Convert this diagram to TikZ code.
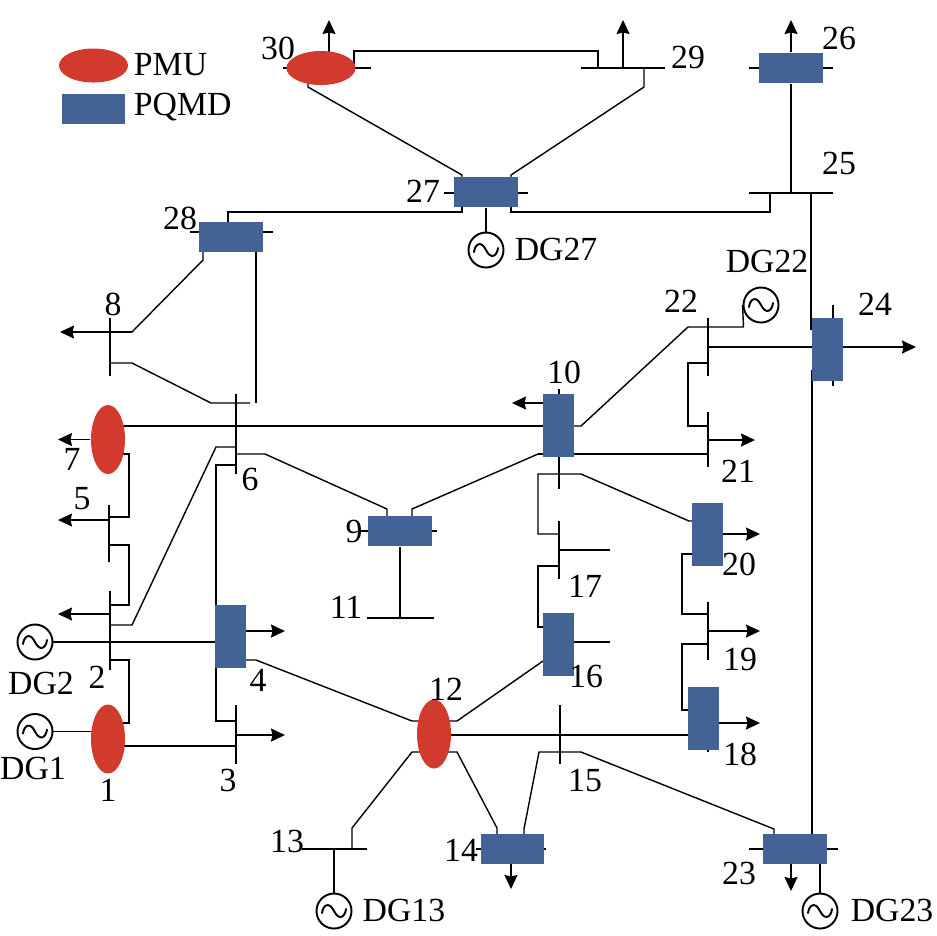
\documentclass[tikz,border=0pt]{standalone}
\usepackage{fontspec}
\setmainfont{Liberation Serif}
\usetikzlibrary{arrows.meta,backgrounds,shapes.geometric}
\definecolor{pmured}{RGB}{211,58,46}
\definecolor{pqmdblue}{RGB}{67,99,150}
\begin{document}
\begin{tikzpicture}[x=0.01cm,y=-0.01cm,line width=0.55pt,line cap=round]
        \tikzstyle{every node} = [inner sep=0pt]
        \tikzstyle{pmuh} = [ellipse, fill=pmured, minimum width=0.69cm, minimum height=0.34cm]
        \tikzstyle{pmuv} = [ellipse, fill=pmured, minimum width=0.34cm, minimum height=0.69cm]
        \tikzstyle{pqmdh} = [rectangle, fill=pqmdblue, minimum width=0.63cm, minimum height=0.30cm]
        \tikzstyle{pqmdv} = [rectangle, fill=pqmdblue, minimum width=0.31cm, minimum height=0.63cm]
        \tikzstyle{lab} = [font=\fontsize{9.6}{10}\selectfont]
        \tikzstyle{load} = [-{Stealth[length=0.14cm,width=0.13cm,inset=0.015cm]}]
        \tikzstyle{gen} = [circle, draw, minimum size=0.35cm, path picture={
            \draw (path picture bounding box.center) ++(-12,2) .. controls +(1,-8) and +(-5,-10) .. ++(12,-2)
                .. controls +(5,10) and +(-1,8) .. ++(12,-2);}]
        \useasboundingbox (0,0) rectangle (937,935);

        \node[pmuh] (legpmu) at (93.5,65.5) {};
        \node[pqmdh] (legpqmd) at (93.5,109) {};
        \node[lab, anchor=base west] (txtpmu) at (133,75) {PMU};
        \node[lab, anchor=base west] (txtpqmd) at (133,115) {PQMD};

        \node[pmuh] (bus30) at (321,68) {};
        \foreach \n/\xx/\yy in {7/108/439.5, 1/108/739, 12/434/734}
            \node[pmuv] (bus\n) at (\xx,\yy) {};
        \foreach \n/\xx/\yy in {27/486/192, 28/231/237, 26/791/68, 9/400/531, 14/512.5/849, 23/795/849}
            \node[pqmdh] (bus\n) at (\xx,\yy) {};
        \foreach \n/\xx/\yy in {10/558/425.5, 24/827.5/349.5, 4/230.5/636.5, 16/558/644.5, 20/707/534.5, 18/703/718.5}
            \node[pqmdv] (bus\n) at (\xx,\yy) {};
        \foreach \n/\xx/\yy in {27/486/250, 22/761/305, 2/35/642, 1/35/731.5, 13/334/911, 23/820/911}
            \node[gen] (g\n) at (\xx,\yy) {};
        \foreach \n/\xx/\yy in {30/278/48, 29/688/57, 26/839/38, 25/839/163, 27/423/191, 28/180/218, 8/113/304,
                22/681/301, 24/875/304, 10/564/372, 7/72/459, 6/250/479, 5/82/499, 2/97/677, 1/108/790,
                3/228/780, 4/258/680, 9/354/531, 11/346/607, 12/446/689, 13/287/841, 14/461/850, 15/585/780,
                16/586/676, 17/585/586, 18/740/754, 19/740/659, 20/739/564, 21/738/471, 23/739/873,
                DG27/556/249, DG22/767/261, DG2/41/683, DG1/33/768, DG13/404/910, DG23/892/910}
            \node[lab] (lab\n) at (\xx,\yy) {\n};

        \foreach \n/\xx/\yy in {30a/283/68, 30b/371/68, 29a/581/68, 29b/665/68, 26a/749/68, 26b/833/68,
                25a/749/193, 25b/833/193, 27a/444/193, 27b/528/193, 28a/190/232, 28b/273/232,
                8a/110/318, 8b/110/376, 6a/236/394, 6b/236/474, 10a/559/389, 10b/559/489,
                22a/708/318, 22b/708/376, 24a/833/305, 24b/833/386, 21a/708/412, 21b/708/467,
                5a/109/505, 5b/109/562, 2a/110/591, 2b/110/670, 9a/360/531, 9b/437/531,
                11a/367/618, 11b/434/618, 17a/559/521, 17b/559/579, 19a/708/602, 19b/708/660,
                18a/708/687, 18b/708/752, 3a/236/705, 3b/236/764, 15a/560/705, 15b/560/764,
                13a/302/849, 13b/367/849, 14a/476/849, 14b/546/849, 23a/749/849, 23b/838/849,
                30t/354/68, 30u/354/51, 29t/598/68, 30s/308/80, 30v/308/87, 27u/462/175, 27t/462/180,
                29s/644/68, 29v/644/87, 27w/511/175, 27x/511/180, 27y/462/205, 27z/462/212, 28t/228/224,
                27r/511/205, 27q/511/212, 25t/770/193, 28s/203/250, 28u/203/260, 8u/132/332, 8arr/60/332,
                8v/110/363, 8w/132/363, 6u/211/403, 6v/250/403, 28v/256/250, 6w/256/403,
                7t/120/426, 10t/550/426, 10u/570/426, 10v/581/426, 22u/688/327, 22v/743.5/327,
                7arr/58/439.5, 7u/120/454, 5c/129/517, 5t/109/517, 5v/109/520, 5arr/58/520,
                5w/109/545, 2c/129/605, 2t/110/605, 2u/110/614, 2arr/58/614,
                2v/110/625, 2w/132/625, 6x/216/447, 6y/236/447, 4t/220/642,
                2x/110/660, 1c/129/723, 1t/120/723, 1u/100/731.5, 1v/120/746, 3t/236/746,
                3u/236/735, 3arr/285/735, 3v/236/721, 4u/216/665, 4v/216/610, 6z/236/465,
                4w/240/631, 4arr/285/631, 4x/240/660, 4y/256/660, 12t/412/721, 12u/425/721,
                6s/236/454, 6r/265/454, 9u/387/509, 9t/387/520, 9v/412/520, 9w/412/509, 10w/538/454, 21t/708/454,
                11t/400/618, 10x/550/403, 10arr/512/403, 22s/708/347, 24t/820/347, 24u/835/347, 24arr/916/347,
                22x/708/363, 21c/688/426, 21u/708/426, 21v/708/440, 21arr/755/440,
                25u/791/193, 26arr/791/20, 30w/329/60, 30arr/329/20, 29u/623/68, 29arr/623/20,
                25v/811/193, 24v/811/330, 24w/812/370, 23t/812/840,
                20t/700/521, 20u/689/521, 10r/581/474, 10s/538/474, 17t/559/534, 17u/559/550, 17v/610/550,
                17w/559/566, 16t/538/627, 16u/550/627, 16v/560/642, 16w/610/642, 16x/543/661, 12v/457/721, 12w/445/721,
                12x/445/735, 18t/695/735, 18u/710/723, 18arr/760/723, 18v/695/710, 19c/682/644, 19t/708/644,
                19u/708/631, 19arr/760/631, 19v/708/614, 20c/682/554, 20v/700/554, 20w/715/534, 20arr/760/534,
                14t/524/840, 14u/524/829, 15u/539/752, 15v/581/752, 23u/774/829, 23v/774/840,
                12y/445/752, 12z/457/752, 14v/497/828, 14w/497/840, 12r/425/752, 12s/412/752, 13t/352/828, 13u/352/849,
                13v/334/849, 14x/511/860, 14arr/511/889, 23w/791/860, 23arr/791/891, 23x/820/850}
            \coordinate (\n) at (\xx,\yy);

        \begin{pgfonlayer}{background}
        \foreach \from/\to in {30a/30b, 29a/29b, 26a/26b, 25a/25b, 27a/27b, 28a/28b, 8a/8b, 6a/6b, 10a/10b,
                22a/22b, 24a/24b, 21a/21b, 5a/5b, 2a/2b, 9a/9b, 11a/11b, 17a/17b, 19a/19b, 18a/18b, 3a/3b,
                15a/15b, 13a/13b, 14a/14b, 23a/23b, 28v/6w, 7t/10t, 1v/3t, 25v/24v, 24w/23t, 22s/24t,
                17u/17v, 16v/16w, 12x/18t, 10w/21t, 11t/bus9, 25u/bus26, 4t/g2, 1u/g1, 13v/g13, 23x/g23, bus27/g27}
            \draw (\from) -- (\to);
        \foreach \from/\to in {8u/8arr, 5v/5arr, 2u/2arr, 3u/3arr, 4w/4arr, 10x/10arr, 24u/24arr, 21v/21arr,
                30w/30arr, 29u/29arr, 18u/18arr, 19u/19arr, 20w/20arr, 14x/14arr, 23w/23arr, bus26/26arr, bus7/7arr}
            \draw[load] (\from) -- (\to);
        \draw (30t) -- (30u) -| (29t);
        \draw (30s) -- (30v) -- (27u) -- (27t);
        \draw (29s) -- (29v) -- (27w) -- (27x);
        \draw (27y) -- (27z) -| (28t);
        \draw (27r) -- (27q) -| (25t);
        \draw (28s) -- (28u) -- (8u);
        \draw (8v) -- (8w) -- (6u) -- (6v);
        \draw (10u) -- (10v) -- (22u) -- (22v) -- (g22.west);
        \draw (7u) -| (5c) -- (5t);
        \draw (5w) -| (2c) -- (2t);
        \draw (2v) -- (2w) -- (6x) -- (6y);
        \draw (2x) -| (1c) -- (1t);
        \draw (3v) -| (4u);
        \draw (4v) |- (6z);
        \draw (4x) -- (4y) -- (12t) -- (12u);
        \draw (6s) -- (6r) -- (9u) -- (9t);
        \draw (9v) -- (9w) -- (10w);
        \draw (22x) -| (21c) -- (21u);
        \draw (20t) -- (20u) -- (10r) -- (10s) |- (17t);
        \draw (17w) -| (16t) -- (16u);
        \draw (16x) -- (12v) -- (12w);
        \draw (18v) -| (19c) -- (19t);
        \draw (19v) -| (20c) -- (20v);
        \draw (14t) -- (14u) -- (15u) -- (15v) -- (23u) -- (23v);
        \draw (12y) -- (12z) -- (14v) -- (14w);
        \draw (12r) -- (12s) -- (13t) -- (13u);
        \end{pgfonlayer}
    \end{tikzpicture}
\end{document}
